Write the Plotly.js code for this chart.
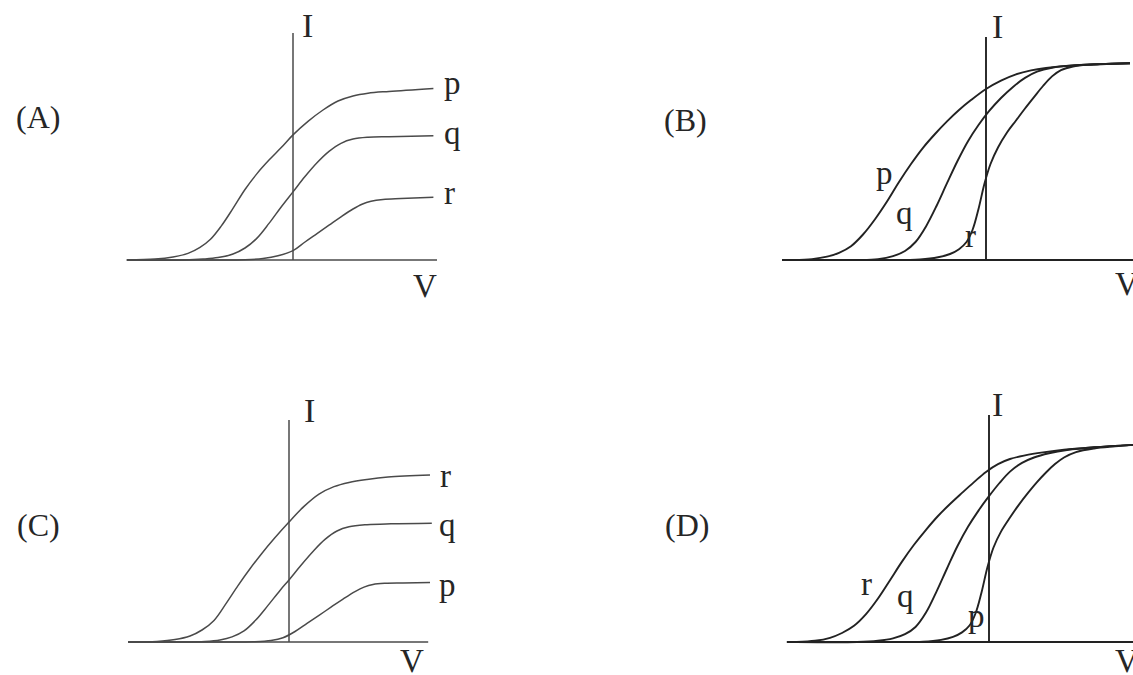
<!DOCTYPE html>
<html><head><meta charset="utf-8">
<script src="https://cdn.plot.ly/plotly-3.0.1.min.js"></script>
<style>html,body{margin:0;padding:0;background:#fff}#chart{width:1133px;height:675px}</style>
</head><body><div id="chart"></div>
<script>
// Panel A
const A_P_V = [-5.54,-4.6,-4.0,-3.5,-3.1,-2.75,-2.4,-2.0,-1.6,-1.2,-0.8,-0.4,0,0.5,1.0,1.5,2.0,2.5,3.2,4.68];
const A_P_I = [0,0.03,0.10,0.22,0.42,0.69,1.12,1.72,2.35,2.88,3.33,3.74,4.17,4.62,5.00,5.30,5.47,5.56,5.62,5.72];
const A_Q_V = [-5.54,-3.6,-3.0,-2.5,-2.0,-1.6,-1.2,-0.8,-0.4,0,0.4,0.8,1.2,1.6,2.0,2.5,3.2,4.68];
const A_Q_I = [0,0,0.03,0.08,0.20,0.40,0.73,1.22,1.76,2.27,2.78,3.24,3.62,3.89,4.03,4.09,4.11,4.14];
const A_R_V = [-5.54,-2.5,-1.6,-1.0,-0.5,0,0.4,0.8,1.2,1.6,2.0,2.3,2.6,3.0,3.6,4.68];
const A_R_I = [0,0,0.01,0.05,0.14,0.31,0.60,0.88,1.16,1.44,1.70,1.86,1.96,2.02,2.05,2.09];

// Panel B
const B_P_V = [-6.42,-5.8,-5.3,-4.9,-4.5,-4.1,-3.7,-3.3,-2.9,-2.5,-2.1,-1.7,-1.3,-0.9,-0.5,0,0.5,1.0,1.5,2.0,2.8,3.8,4.8];
const B_P_I = [0,0.03,0.11,0.24,0.46,0.85,1.36,1.95,2.60,3.20,3.74,4.20,4.62,5.00,5.33,5.70,5.98,6.19,6.32,6.40,6.48,6.53,6.56];
const B_Q_V = [-6.42,-4.3,-3.6,-3.1,-2.7,-2.35,-2.0,-1.65,-1.3,-0.95,-0.6,-0.25,0.1,0.5,0.9,1.3,1.7,2.2,3.0,3.8,4.8];
const B_Q_I = [0,0,0.03,0.13,0.30,0.60,1.12,1.80,2.56,3.30,3.96,4.50,4.96,5.40,5.77,6.07,6.28,6.41,6.49,6.53,6.56];
const B_R_V = [-6.42,-3.4,-2.2,-1.6,-1.2,-0.9,-0.65,-0.45,-0.25,-0.05,0.15,0.4,0.7,1.0,1.3,1.6,1.9,2.2,2.5,2.9,3.5,4.2,4.8];
const B_R_I = [0,0,0.02,0.09,0.20,0.36,0.60,1.00,1.70,2.55,3.20,3.75,4.25,4.65,5.05,5.43,5.80,6.12,6.33,6.45,6.51,6.54,6.56];

// Panel C
const C_R_V = [-5.36,-4.4,-3.8,-3.3,-2.9,-2.5,-2.1,-1.7,-1.3,-0.9,-0.5,0,0.5,1.0,1.5,2.0,2.6,3.3,4.7];
const C_R_I = [0,0.02,0.08,0.20,0.40,0.72,1.28,1.88,2.44,2.96,3.44,4.00,4.52,4.93,5.18,5.32,5.42,5.50,5.57];
const C_Q_V = [-5.36,-3.6,-2.8,-2.3,-1.9,-1.5,-1.1,-0.7,-0.3,0,0.4,0.8,1.2,1.6,2.0,2.6,3.4,4.76];
const C_Q_I = [0,0,0.02,0.07,0.17,0.37,0.74,1.22,1.72,2.07,2.56,3.02,3.42,3.70,3.84,3.91,3.94,3.96];
const C_P_V = [-5.36,-2.0,-1.2,-0.6,-0.2,0.2,0.6,1.0,1.4,1.8,2.2,2.5,2.8,3.2,3.8,4.7];
const C_P_I = [0,0,0.01,0.05,0.14,0.35,0.62,0.89,1.16,1.43,1.68,1.83,1.92,1.96,1.97,1.98];

// Panel D
const D_R_V = [-6.41,-5.8,-5.3,-4.9,-4.5,-4.1,-3.7,-3.3,-2.9,-2.5,-2.1,-1.7,-1.3,-0.9,-0.5,-0.1,0.3,0.7,1.2,1.8,2.5,3.5,4.8];
const D_R_I = [0,0.04,0.14,0.30,0.54,0.93,1.45,2.06,2.68,3.24,3.74,4.20,4.60,4.97,5.33,5.67,5.93,6.10,6.22,6.32,6.41,6.49,6.57];
const D_Q_V = [-6.41,-4.4,-3.7,-3.2,-2.8,-2.45,-2.1,-1.75,-1.4,-1.05,-0.7,-0.35,0,0.35,0.7,1.1,1.5,2.0,2.6,3.5,4.8];
const D_Q_I = [0,0,0.04,0.12,0.26,0.50,0.98,1.68,2.45,3.20,3.84,4.38,4.86,5.30,5.68,5.97,6.15,6.29,6.40,6.49,6.57];
const D_P_V = [-6.41,-3.4,-2.2,-1.6,-1.2,-0.9,-0.65,-0.45,-0.25,-0.05,0.15,0.4,0.7,1.0,1.3,1.6,1.9,2.2,2.5,2.9,3.5,4.2,4.8];
const D_P_I = [0,0,0.01,0.07,0.17,0.32,0.55,0.95,1.65,2.50,3.15,3.68,4.15,4.58,4.97,5.33,5.65,5.93,6.15,6.33,6.45,6.52,6.57];

const PANEL_LABELS = ['(A)', '(B)', '(C)', '(D)'];
const AXIS_LABELS = ['I', 'V'];

// ---------- LAYOUT ----------
const W = 1133, H = 675, S = 30; // pixels per data unit
const FONT = "'Liberation Serif', 'Times New Roman', Times, serif";
const TXT = '#262626';

const panels = [
  { key: '', origin: [293, 260], xr: [-6, 6], yr: [-1.5, 8.5], axis: {vmin: -5.53, vmax: 4.8, itop: 7.57},
    curves: [[A_P_V, A_P_I], [A_Q_V, A_Q_I], [A_R_V, A_R_I]], names: ['p','q','r'],
    lab: [[5.33,5.9],[5.30,4.23],[5.23,2.22]], I: [0.47,7.83], Vl: [4.4,-0.88], color: '#4a4a4a', w: 1.5 },
  { key: '2', origin: [986, 260], xr: [-7, 4.9], yr: [-1.5, 8.5], axis: {vmin: -6.8, vmax: 4.9, itop: 7.43},
    curves: [[B_P_V, B_P_I], [B_Q_V, B_Q_I], [B_R_V, B_R_I]], names: ['p','q','r'],
    lab: [[-3.37,2.9],[-2.73,1.56],[-0.53,0.8]], I: [0.37,7.77], Vl: [4.7,-0.8], color: '#222', w: 1.9 },
  { key: '3', origin: [289, 642], xr: [-6, 6], yr: [-1.0, 8.5], axis: {vmin: -5.36, vmax: 4.64, itop: 7.4},
    curves: [[C_R_V, C_R_I], [C_Q_V, C_Q_I], [C_P_V, C_P_I]], names: ['r','q','p'],
    lab: [[5.2,5.53],[5.27,3.9],[5.27,1.9]], I: [0.67,7.73], Vl: [4.1,-0.62], color: '#4a4a4a', w: 1.5 },
  { key: '4', origin: [989, 642], xr: [-7, 4.8], yr: [-1.0, 8.5], axis: {vmin: -6.74, vmax: 4.8, itop: 7.57},
    curves: [[D_R_V, D_R_I], [D_Q_V, D_Q_I], [D_P_V, D_P_I]], names: ['r','q','p'],
    lab: [[-4.07,1.93],[-2.77,1.53],[-0.43,0.86]], I: [0.27,7.9], Vl: [4.6,-0.62], color: '#222', w: 1.9 }
];
const panelLabelPos = [[38,117],[685,120],[38,525],[687,525]];

const traces = [], shapes = [], annotations = [];
const layout = {
  width: W, height: H, margin: {l:0, r:0, t:0, b:0},
  paper_bgcolor: '#fff', plot_bgcolor: 'rgba(0,0,0,0)', showlegend: false,
  font: {family: FONT, color: TXT}
};

const clamp = v => Math.max(0, Math.min(1, v));
panels.forEach((p, idx) => {
  const xa = 'xaxis' + p.key, ya = 'yaxis' + p.key;
  const xr = 'x' + p.key, yr = 'y' + p.key;
  const [ox, oy] = p.origin;
  const axCommon = {showgrid:false, zeroline:false, showticklabels:false, ticks:'', showline:false, fixedrange:true};
  layout[xa] = Object.assign({}, axCommon, {range: p.xr, anchor: yr,
    domain: [clamp((ox + p.xr[0]*S)/W), clamp((ox + p.xr[1]*S)/W)]});
  layout[ya] = Object.assign({}, axCommon, {range: p.yr, anchor: xr,
    domain: [clamp((H - oy + p.yr[0]*S)/H), clamp((H - oy + p.yr[1]*S)/H)]});

  // axes lines
  shapes.push({type:'line', xref:xr, yref:yr, x0:p.axis.vmin, x1:p.axis.vmax, y0:0, y1:0,
    line:{color:p.color, width:p.w}});
  shapes.push({type:'line', xref:xr, yref:yr, x0:0, x1:0, y0:0, y1:p.axis.itop,
    line:{color:p.color, width:p.w}});

  p.curves.forEach((c, k) => {
    traces.push({type:'scatter', mode:'lines', x:c[0], y:c[1], xaxis:xr, yaxis:yr,
      name: p.names[k], line:{color:p.color, width:p.w, shape:'spline', smoothing:1},
      hoverinfo:'skip', cliponaxis:false});
    annotations.push({xref:xr, yref:yr, x:p.lab[k][0], y:p.lab[k][1], text:p.names[k],
      showarrow:false, xanchor:'center', yanchor:'middle', font:{size:33, family:FONT, color:TXT}});
  });
  annotations.push({xref:xr, yref:yr, x:p.I[0], y:p.I[1], text:AXIS_LABELS[0], showarrow:false,
    xanchor:'center', yanchor:'middle', font:{size:34, family:FONT, color:TXT}});
  annotations.push({xref:xr, yref:yr, x:p.Vl[0], y:p.Vl[1], text:AXIS_LABELS[1], showarrow:false,
    xanchor:'center', yanchor:'middle', font:{size:33, family:FONT, color:TXT}});
  annotations.push({xref:'paper', yref:'paper', x:panelLabelPos[idx][0]/W, y:1 - panelLabelPos[idx][1]/H,
    text:PANEL_LABELS[idx], showarrow:false, xanchor:'center', yanchor:'middle',
    font:{size:32, family:FONT, color:TXT}});
});
layout.shapes = shapes;
layout.annotations = annotations;

Plotly.newPlot('chart', traces, layout, {displayModeBar:false, staticPlot:true});
</script>
</body></html>
